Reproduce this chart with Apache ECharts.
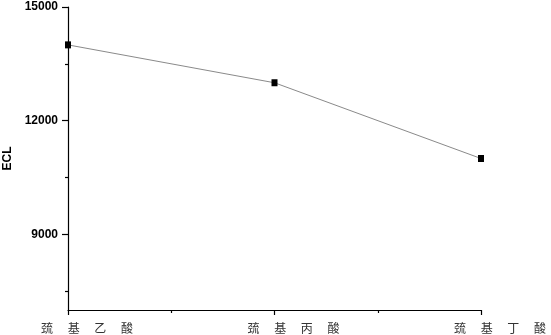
<!DOCTYPE html>
<html>
<head>
<meta charset="utf-8">
<script src="https://cdn.jsdelivr.net/npm/echarts@6/dist/echarts.min.js"></script>
<style>html,body{margin:0;padding:0;background:#fff}#c{width:551px;height:335px}</style>
</head>
<body>
<div id="c"></div>
<script>
const categories = ['巯基乙酸', '巯基丙酸', '巯基丁酸'];
const ecl = [14000, 13000, 11000];
const yMajorTicks = [9000, 12000, 15000];
const yMinorTicks = [7500, 10500, 13500];

function spaced(s) { return s.split('').join('\u3000 '); }

const chart = echarts.init(document.getElementById('c'));
chart.setOption({
  animation: false,
  backgroundColor: '#fff',
  grid: { left: 68, right: 70, top: 7, bottom: 25, containLabel: false, outerBoundsMode: 'none' },
  xAxis: [{
    type: 'value', min: 1, max: 3, interval: 1,
    axisLine: { show: true, onZero: false, lineStyle: { color: '#000', width: 1.2 } },
    axisTick: { show: true, inside: false, length: 5, lineStyle: { color: '#000', width: 1.2 } },
    minorTick: { show: true, splitNumber: 2, length: 3, lineStyle: { color: '#000', width: 1.2 } },
    splitLine: { show: false },
    axisLabel: {
      margin: 12, color: '#333', fontSize: 12,
      fontFamily: 'Noto Sans CJK SC',
      padding: [0, 0, 0, 38],
      formatter: v => { const i = Math.round(v) - 1; return (Math.abs(v - Math.round(v)) < 1e-6 && categories[i]) ? spaced(categories[i]) : ''; }
    }
  }],
  yAxis: [{
    type: 'value', min: 7000, max: 15000,
    name: 'ECL', nameLocation: 'middle', nameRotate: 90, nameGap: 53,
    nameTextStyle: { fontWeight: 'bold', fontSize: 12, color: '#000', fontFamily: 'Liberation Sans' },
    axisLine: { show: true, lineStyle: { color: '#000', width: 1.2 } },
    axisTick: { show: true, length: 6, customValues: yMajorTicks, lineStyle: { color: '#000', width: 1.2 } },
    splitLine: { show: false },
    axisLabel: { customValues: yMajorTicks, formatter: v => String(v), margin: 10, color: '#000', fontWeight: 'bold', fontSize: 12, fontFamily: 'Liberation Sans' }
  }, {
    type: 'value', min: 7000, max: 15000, position: 'left', offset: 0,
    axisLine: { show: false },
    axisTick: { show: true, length: 3, customValues: yMinorTicks, lineStyle: { color: '#000', width: 1.2 } },
    axisLabel: { show: false },
    splitLine: { show: false }
  }],
  series: [{
    type: 'line',
    data: ecl.map((v, i) => [i + 1, v]),
    symbol: 'rect', symbolSize: [6, 7],
    itemStyle: { color: '#000' },
    lineStyle: { color: '#8a8a8a', width: 1 }
  }]
});
</script>
</body>
</html>
